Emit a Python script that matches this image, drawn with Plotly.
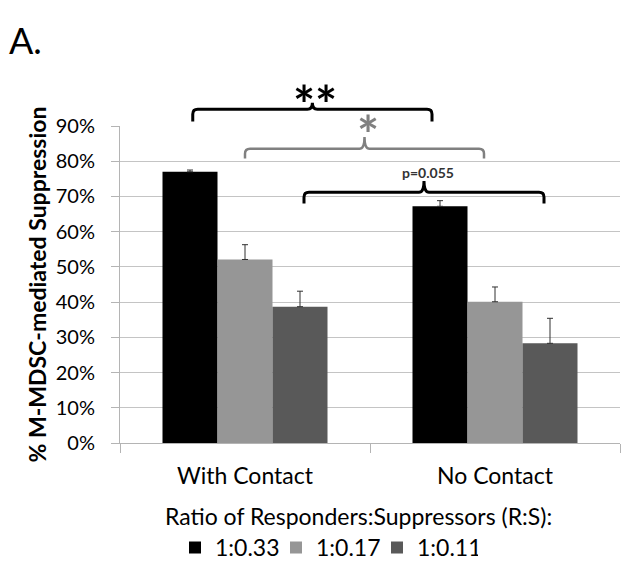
import plotly.graph_objects as go

# data (% suppression, + error)
conditions = ["With Contact", "No Contact"]
ratio_labels = ["1:0.33", "1:0.17", "1:0.11"]
ratio_033 = [77.0, 67.2]
ratio_033_err = [0.5, 1.6]
ratio_017 = [52.1, 40.1]
ratio_017_err = [4.2, 4.2]
ratio_011 = [38.7, 28.3]
ratio_011_err = [4.4, 7.1]
y_ticks = [0, 10, 20, 30, 40, 50, 60, 70, 80, 90]

Y_MAX = 90
FONT = "Lato"
bar_colors = ["#000000", "#969696", "#595959"]

fig = go.Figure()
series = [(ratio_033, ratio_033_err), (ratio_017, ratio_017_err), (ratio_011, ratio_011_err)]
for name, (vals, errs), col in zip(ratio_labels, series, bar_colors):
    fig.add_bar(
        x=[0, 1], y=vals, name=name, marker_color=col, marker_line_width=0,
        error_y=dict(type="data", array=errs, symmetric=False, arrayminus=[0, 0],
                     color="#303030", thickness=1, width=3),
    )


def py(v):
    # percent value -> paper y (domain is full height, range 0..Y_MAX)
    return v / Y_MAX


def bracket(x0, x1, y_line, y_end, y_peak, color, width):
    xc = (x0 + x1) / 2
    dx = 0.02
    r = py(y_line) - py(y_line - 1.4)
    yl, ye, yp = py(y_line), py(y_end), py(y_peak)
    path = (f"M {x0},{ye} L {x0},{yl - r} Q {x0},{yl} {x0 + dx},{yl} "
            f"L {xc - dx},{yl} Q {xc},{yl} {xc},{yp} Q {xc},{yl} {xc + dx},{yl} "
            f"L {x1 - dx},{yl} Q {x1},{yl} {x1},{yl - r} L {x1},{ye}")
    fig.add_shape(type="path", path=path, xref="x", yref="paper",
                  line=dict(color=color, width=width))


# significance brackets
bracket(-0.209, 0.748, 94.75, 91.3, 96.6, "#000000", 3)
bracket(0.0, 0.956, 83.55, 80.8, 86.9, "#808080", 2.5)
bracket(0.236, 1.196, 71.2, 68.0, 74.4, "#000000", 3)

fig.add_annotation(x=0.28, y=py(96.2), xref="x", yref="paper", text="<b>**</b>",
                   showarrow=False, font=dict(family=FONT, size=52, color="#000000"), yanchor="middle")
fig.add_annotation(x=0.49, y=py(87.6), xref="x", yref="paper", text="<b>*</b>",
                   showarrow=False, font=dict(family=FONT, size=52, color="#808080"), yanchor="middle")
fig.add_annotation(x=0.73, y=py(76.9), xref="x", yref="paper", text="<b>p=0.055</b>",
                   showarrow=False, font=dict(family=FONT, size=14, color="#333333"), yanchor="middle")

fig.add_annotation(x=-0.226, y=1.27, xref="paper", yref="paper", text="A.",
                   xanchor="left", yanchor="middle",
                   showarrow=False, font=dict(family=FONT, size=36, color="#000000"))

# legend heading sits above the horizontal legend row
fig.add_annotation(x=0.476, y=-0.23, xref="paper", yref="paper",
                   text="Ratio of Responders:Suppressors (R:S):",
                   xanchor="center", yanchor="middle",
                   showarrow=False, font=dict(family=FONT, size=23, color="#000000"))

# page body has an 8px margin, so the figure is sized to fit inside the 630x564 window
fig.update_layout(
    width=622, height=556,
    margin=dict(l=112, r=10, t=118, b=121, autoexpand=False),
    plot_bgcolor="white", paper_bgcolor="white",
    font=dict(family=FONT, size=20, color="#000000"),
    barmode="group", bargap=0.34, bargroupgap=0,
    showlegend=True,
    legend=dict(orientation="h", x=0.11, xanchor="left", y=-0.262, yanchor="top",
                font=dict(size=23), traceorder="normal", itemwidth=30, entrywidth=56),
)
fig.update_xaxes(
    range=[-0.5, 1.5], tickvals=[0, 1], ticktext=conditions, ticks="",
    showline=True, linecolor="#b4b4b4", linewidth=1, showgrid=False, zeroline=False,
    ticklabelstandoff=12, tickfont=dict(size=23),
    minor=dict(tickmode="linear", tick0=-0.5, dtick=1, ticks="outside", ticklen=9,
               tickcolor="#b4b4b4", showgrid=False),
)
fig.update_yaxes(
    range=[0, Y_MAX], tickvals=y_ticks, ticktext=[f"{v}%" for v in y_ticks],
    showline=True, linecolor="#b4b4b4", linewidth=1,
    ticks="outside", ticklen=8, tickcolor="#b4b4b4",
    showgrid=True, gridcolor="#c4c4c4", gridwidth=1, zeroline=False,
    ticklabelstandoff=12, tickfont=dict(size=20),
    title=dict(text="<b>% M-MDSC-mediated Suppression</b>", standoff=2, font=dict(size=23)),
)

fig.write_html("out.html")
